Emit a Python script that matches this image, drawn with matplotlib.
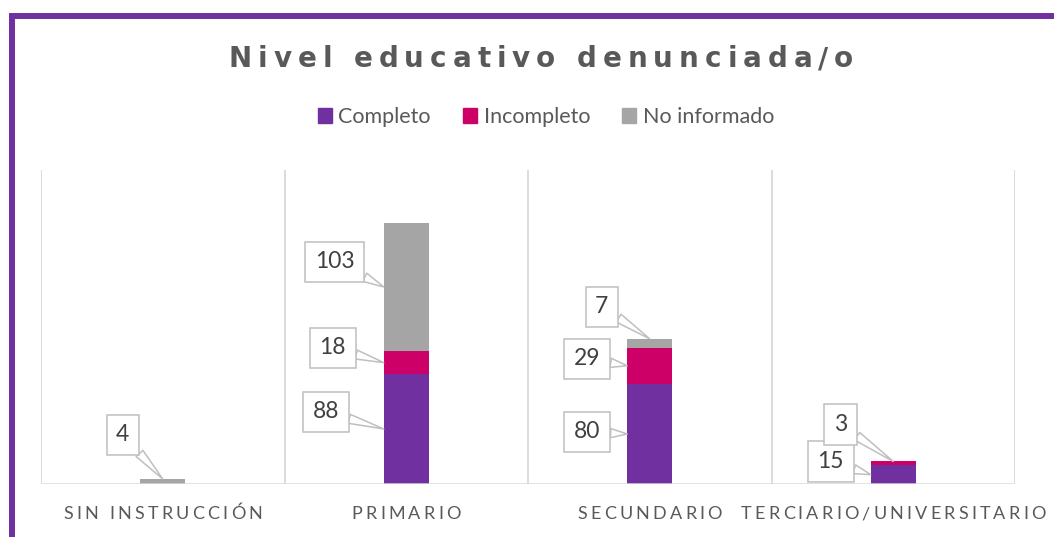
import numpy as np
import matplotlib
matplotlib.use("Agg")
import matplotlib.pyplot as plt
from matplotlib.patches import Patch, Rectangle
from matplotlib.font_manager import FontProperties, findfont
from matplotlib.ft2font import FT2Font

# data
categories = ['SIN INSTRUCCIÓN', 'PRIMARIO', 'SECUNDARIO', 'TERCIARIO/UNIVERSITARIO']
series_names = ['Completo', 'Incompleto', 'No informado']
completo = [0, 88, 80, 15]
incompleto = [0, 18, 29, 3]
no_informado = [4, 103, 7, 0]

# layout of the callout labels: (category, series) -> (anchor, dx px, dy px)
callouts = {
    (0, 2): ('top', -40, 44),
    (1, 0): ('side', -58, 17),
    (1, 1): ('side', -51, 15),
    (1, 2): ('side', -49, 25),
    (2, 0): ('side', -40, 2),
    (2, 1): ('side', -40, 7),
    (2, 2): ('top', -48, 32),
    (3, 0): ('side', -40, 13),
    (3, 1): ('top', -53, 37),
}

colors = ['#7030A0', '#CC0066', '#A5A5A5']
TXT = '#595959'
GRID = '#D9D9D9'

W, H = 1054, 537
fig = plt.figure(figsize=(W / 100, H / 100), dpi=100)
ax = fig.add_axes([41 / W, 1 - 484 / H, (1015 - 41) / W, (484 - 170) / H])


def spaced_text(x_px, y_px, s, size, spacing, color, weight='normal', family='Lato'):
    # matplotlib has no letter spacing, so place the glyphs one by one
    prop = FontProperties(family=family, size=size, weight=weight)
    font = FT2Font(findfont(prop))
    font.set_size(size, fig.dpi)
    adv = [font.load_char(ord(c)).linearHoriAdvance / 65536 for c in s]
    x = x_px - (sum(adv) + spacing * (len(s) - 1)) / 2
    for c, a in zip(s, adv):
        fig.text(x / W, 1 - y_px / H, c, fontproperties=prop, color=color,
                 ha='left', va='baseline')
        x += a + spacing


x = np.arange(len(categories))
width = 0.185
series = [completo, incompleto, no_informado]
bottom = np.zeros(len(categories))
bottoms = []
for vals, col in zip(series, colors):
    ax.bar(x, vals, width, bottom=bottom, color=col, zorder=2)
    bottoms.append(bottom.copy())
    bottom += np.array(vals)

ax.set_xlim(-0.5, len(categories) - 0.5)
ax.set_ylim(0, 251)
for b in np.arange(-0.5, len(categories), 1.0):
    ax.axvline(b, color=GRID, lw=1.3, zorder=1)
ax.axhline(0, color=GRID, lw=1.8, zorder=3)
for s in ax.spines.values():
    s.set_visible(False)
ax.set_xticks([])
ax.set_yticks([])

# callout labels
for (i, k), (anchor, dx, dy) in callouts.items():
    v = series[k][i]
    if anchor == 'side':
        xy = (x[i] - width / 2, bottoms[k][i] + v / 2)
    else:
        xy = (x[i], bottoms[k][i] + v)
    ax.annotate(str(v), xy=xy, xytext=(dx, dy), textcoords='offset pixels',
                ha='center', va='center', fontsize=16.5, color='#404040',
                family='Lato', zorder=5,
                bbox=dict(boxstyle='square,pad=0.42', fc='white', ec='#BFBFBF', lw=1.1),
                arrowprops=dict(arrowstyle='wedge,tail_width=0.4', fc='white',
                                ec='#BFBFBF', lw=1.1, shrinkA=0, shrinkB=0))

# category labels
centers_px = ax.transData.transform(np.column_stack([x, np.zeros_like(x)]))[:, 0]
for c, cx in zip(categories, centers_px):
    spaced_text(cx, 519, c, 13, 3.2, TXT)

# title
spaced_text(541, 67, 'Nivel educativo denunciada/o', 20, 6, TXT,
            weight='bold', family='DejaVu Sans')

handles = [Patch(color=c) for c in colors]
fig.legend(handles, series_names, loc='center', bbox_to_anchor=(546 / W, 1 - 117 / H),
           ncol=3, frameon=False, handlelength=0.65, handleheight=0.65,
           handletextpad=0.3, columnspacing=1.5,
           prop=FontProperties(family='Lato', size=15.5), labelcolor=TXT)

# purple frame, only the top and left edges fall inside the picture
fig.patches.append(Rectangle((11.5 / W, -0.2), 1.2, 1.2 - 15.8 / H, transform=fig.transFigure,
                             fill=False, ec='#7030A0', lw=4.3))

fig.savefig('out.png', dpi=100)
